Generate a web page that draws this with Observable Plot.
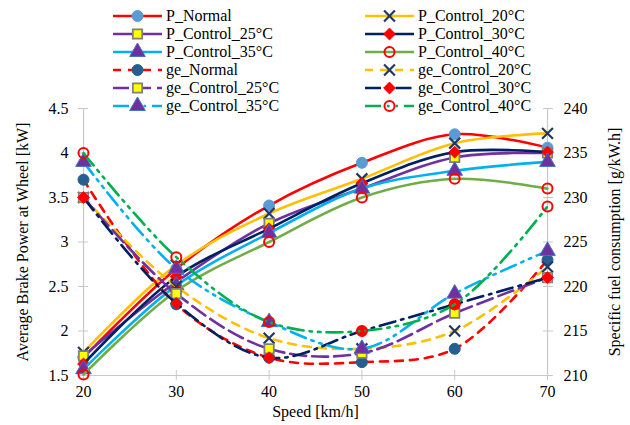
<!DOCTYPE html>
<html><head><meta charset="utf-8">
<script src="https://cdn.jsdelivr.net/npm/d3@7"></script>
<script src="https://cdn.jsdelivr.net/npm/@observablehq/plot@0.6"></script>
<style>
body{margin:0;background:#fff;}
#wrap{position:relative;width:630px;height:425px;color:#000;}
#wrap svg.plot{position:absolute;left:0;top:0;}
.leg{position:absolute;display:flex;align-items:center;white-space:nowrap;height:18px;line-height:18px;}
.leg svg{margin-right:4px;overflow:visible;}
</style></head><body><div id="wrap"></div>
<script>
// ---- data ----
const speeds = [20, 30, 40, 50, 60, 70];
const seriesNames = ["P_Normal","P_Control_20°C","P_Control_25°C","P_Control_30°C","P_Control_35°C","P_Control_40°C",
                     "ge_Normal","ge_Control_20°C","ge_Control_25°C","ge_Control_30°C","ge_Control_35°C","ge_Control_40°C"];
// Average brake power at wheel [kW]
const pNormal = [1.70, 2.70, 3.41, 3.89, 4.21, 4.06];
const pC20    = [1.76, 2.74, 3.32, 3.71, 4.11, 4.22];
const pC25    = [1.72, 2.55, 3.21, 3.60, 3.95, 4.00];
const pC30    = [1.63, 2.61, 3.15, 3.66, 4.01, 4.01];
const pC35    = [1.57, 2.51, 3.10, 3.60, 3.80, 3.90];
const pC40    = [1.51, 2.45, 3.00, 3.50, 3.71, 3.60];
// Specific fuel consumption [g/kW.h]
const geNormal = [232.0, 218.0, 212.0, 211.5, 213.0, 223.0];
const geC20    = [230.0, 220.0, 214.2, 213.0, 215.0, 222.2];
const geC25    = [230.0, 219.2, 213.0, 212.5, 217.0, 221.0];
const geC30    = [230.0, 218.1, 212.0, 215.0, 218.0, 221.0];
const geC35    = [234.0, 222.0, 216.0, 213.0, 219.2, 224.0];
const geC40    = [235.0, 223.3, 216.0, 215.0, 218.0, 229.0];
// tick labels
const powerTicks = [1.5, 2, 2.5, 3, 3.5, 4, 4.5];
const powerLabels = ["1.5", "2", "2.5", "3", "3.5", "4", "4.5"];
const sfcTicks = [210, 215, 220, 225, 230, 235, 240];
const speedTicks = [20, 30, 40, 50, 60, 70];

const FONT = "'Liberation Serif', 'Times New Roman', serif";

// ---- styles ----
const styles = [
  {stroke:"#FF0000", dash:null, symbol:"circle", r:5.5, fill:"#5B9BD5", mstroke:"#5B9BD5", msw:1},
  {stroke:"#FFC000", dash:null, symbol:"times", r:5, fill:"none", mstroke:"#1F3864", msw:2.2},
  {stroke:"#7030A0", dash:null, symbol:"square", r:5.3, fill:"#FFFF00", mstroke:"#7F7F7F", msw:1.8},
  {stroke:"#002060", dash:null, symbol:"diamond2", r:5.3, fill:"#FF0000", mstroke:"#FF0000", msw:1},
  {stroke:"#00B0F0", dash:null, symbol:"triangle", r:5.8, fill:"#7030A0", mstroke:"#4472C4", msw:1},
  {stroke:"#70AD47", dash:null, symbol:"circle", r:5, fill:"none", mstroke:"#FF0000", msw:2},
  {stroke:"#FF0000", dash:"8,7", symbol:"circle", r:5.5, fill:"#255E91", mstroke:"#255E91", msw:1},
  {stroke:"#FFC000", dash:"8,7", symbol:"times", r:5, fill:"none", mstroke:"#1F3864", msw:2.2},
  {stroke:"#7030A0", dash:"16,6", symbol:"square", r:5.3, fill:"#FFFF00", mstroke:"#7F7F7F", msw:1.8},
  {stroke:"#002060", dash:"16,6,2.5,6", symbol:"diamond2", r:5.3, fill:"#FF0000", mstroke:"#FF0000", msw:1},
  {stroke:"#00B0F0", dash:"16,6,2.5,6,2.5,6", symbol:"triangle", r:5.8, fill:"#7030A0", mstroke:"#4472C4", msw:1},
  {stroke:"#00B050", dash:"16,6,2.5,6,2.5,6", symbol:"circle", r:5, fill:"none", mstroke:"#FF0000", msw:2}
];

// map sfc to the power scale (both axes share tick positions)
const sfcToY = g => powerTicks[0] + (g - sfcTicks[0]) * (powerTicks[powerTicks.length-1] - powerTicks[0]) / (sfcTicks[sfcTicks.length-1] - sfcTicks[0]);
const values = [pNormal, pC20, pC25, pC30, pC35, pC40,
  geNormal.map(sfcToY), geC20.map(sfcToY), geC25.map(sfcToY), geC30.map(sfcToY), geC35.map(sfcToY), geC40.map(sfcToY)];

const axisGray = "#C8C8C8";
const marks = [
  Plot.ruleX([speedTicks[0], speedTicks[speedTicks.length-1]], {stroke: axisGray, strokeWidth: 1.2}),
  Plot.ruleY([powerTicks[0]], {stroke: axisGray, strokeWidth: 1.2}),
  Plot.axisX({ticks: speedTicks, tickSize: 10, dy: -5, tickFormat: () => "", label: null, stroke: axisGray}),
  Plot.axisX({ticks: speedTicks, tickSize: 0, tickPadding: 10, label: null, fill: "#000", fontSize: 16}),
  Plot.axisY({anchor: "left", ticks: powerTicks, tickSize: 10, dx: 5, tickFormat: () => "", label: null, stroke: axisGray}),
  Plot.axisY({anchor: "left", ticks: powerTicks, tickSize: 0, tickPadding: 15, label: null, fill: "#000", fontSize: 16,
    tickFormat: d => powerLabels[powerTicks.indexOf(d)]}),
  Plot.axisY({anchor: "right", ticks: powerTicks, tickSize: 10, dx: -5, tickFormat: () => "", label: null, stroke: axisGray}),
  Plot.axisY({anchor: "right", ticks: powerTicks, tickSize: 0, tickPadding: 16, label: null, fill: "#000", fontSize: 16,
    tickFormat: d => sfcTicks[powerTicks.indexOf(d)]}),
  Plot.text(["Average Brake Power at Wheel [kW]"], {frameAnchor: "left", rotate: -90, dx: -61, textAnchor: "middle", lineAnchor: "middle", fontSize: 16, fill: "#000"}),
  Plot.text(["Specific fuel consumption [g/kW.h]"], {frameAnchor: "right", rotate: -90, dx: 67, textAnchor: "middle", lineAnchor: "middle", fontSize: 16, fill: "#000"}),
  Plot.text(["Speed [km/h]"], {frameAnchor: "bottom", dy: 36, textAnchor: "middle", lineAnchor: "middle", fontSize: 16, fill: "#000"})
];

seriesNames.forEach((name, i) => {
  const st = styles[i];
  const rows = speeds.map((s, j) => ({series: name, speed: s, y: values[i][j]}));
  marks.push(Plot.line(rows, {x: "speed", y: "y", stroke: st.stroke, strokeWidth: 2.6, strokeDasharray: st.dash, curve: "catmull-rom"}));
  marks.push(Plot.dot(rows, {x: "speed", y: "y", symbol: st.symbol, r: st.r, fill: st.fill, stroke: st.mstroke, strokeWidth: st.msw}));
});

const chart = Plot.plot({
  width: 630, height: 425,
  marginLeft: 83, marginRight: 83, marginTop: 108, marginBottom: 50,
  x: {domain: [speedTicks[0], speedTicks[speedTicks.length-1]]},
  y: {domain: [powerTicks[0], powerTicks[powerTicks.length-1]]},
  style: {fontSize: "16px", background: "white", color: "#000"},
  marks
});
chart.classList.add("plot");
chart.style.fontFamily = FONT;
chart.querySelectorAll("text").forEach(el => { el.style.fontFamily = FONT; });
const wrap = document.getElementById("wrap");
wrap.style.fontFamily = FONT;
wrap.appendChild(chart);

// ---- legend ----
const symMap = {circle: d3.symbolCircle, times: d3.symbolTimes, square: d3.symbolSquare, diamond2: d3.symbolDiamond2, triangle: d3.symbolTriangle};
seriesNames.forEach((name, i) => {
  const st = styles[i];
  const col = i % 2, row = Math.floor(i / 2);
  const div = document.createElement("div");
  div.className = "leg";
  div.style.fontFamily = FONT;
  div.style.fontSize = "16px";
  div.style.left = (col === 0 ? 113 : 365) + "px";
  div.style.top = (16 + row * 17.9 - 9) + "px";
  const ns = "http://www.w3.org/2000/svg";
  const svg = document.createElementNS(ns, "svg");
  svg.setAttribute("width", 49); svg.setAttribute("height", 14);
  const line = document.createElementNS(ns, "line");
  line.setAttribute("x1", 0); line.setAttribute("x2", 49); line.setAttribute("y1", 7); line.setAttribute("y2", 7);
  line.setAttribute("stroke", st.stroke); line.setAttribute("stroke-width", 2.6);
  if (st.dash) line.setAttribute("stroke-dasharray", st.dash);
  svg.appendChild(line);
  const p = document.createElementNS(ns, "path");
  p.setAttribute("d", d3.symbol(symMap[st.symbol], Math.PI * st.r * st.r)());
  p.setAttribute("transform", "translate(24.5,7)");
  p.setAttribute("fill", st.fill); p.setAttribute("stroke", st.mstroke); p.setAttribute("stroke-width", st.msw);
  svg.appendChild(p);
  div.appendChild(svg);
  const span = document.createElement("span");
  span.textContent = name;
  div.appendChild(span);
  wrap.appendChild(div);
});
</script></body></html>
